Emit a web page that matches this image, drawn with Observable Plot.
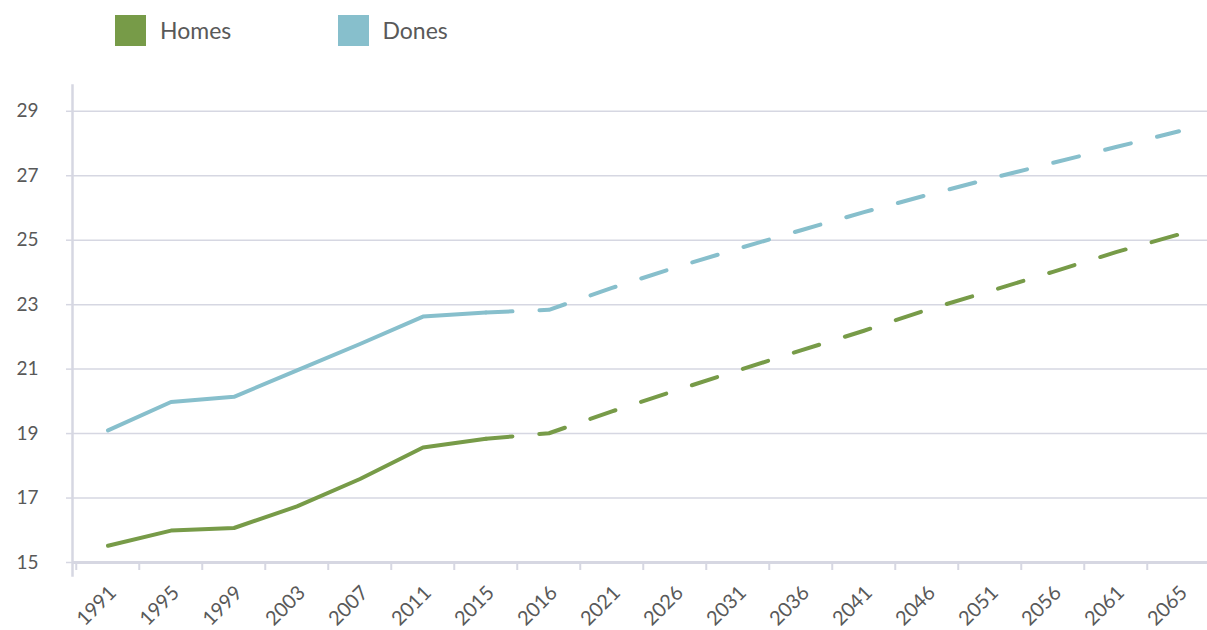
<!DOCTYPE html>
<html><head><meta charset="utf-8">
<script src="https://cdn.jsdelivr.net/npm/d3@7"></script>
<script src="https://cdn.jsdelivr.net/npm/@observablehq/plot@0.6"></script>
<style>
body{margin:0;background:#fff;font-family:Lato,sans-serif;}
#legend{position:relative;height:60px;}
.item{position:absolute;top:15px;display:flex;align-items:center;font-size:23px;color:#595959;line-height:31px;}
.sw{width:31px;height:31px;margin-right:14px;}
</style></head>
<body><div id="legend"></div><div id="chart"></div>
<script>
const years = ["1991","1995","1999","2003","2007","2011","2015","2016","2021","2026","2031","2036","2041","2046","2051","2056","2061","2065"];
const obsYears = ["1991","1995","1999","2003","2007","2011","2015"];
const projYears = ["2015","2016","2021","2026","2031","2036","2041","2046","2051","2056","2061","2065"];
const homesObs = [15.52, 15.99, 16.07, 16.74, 17.59, 18.57, 18.84];
const donesObs = [19.10, 19.98, 20.14, 20.96, 21.78, 22.63, 22.76];
const homesProj = [18.84, 19.01, 19.69, 20.33, 20.96, 21.58, 22.19, 22.84, 23.42, 24.02, 24.63, 25.18];
const donesProj = [22.76, 22.84, 23.52, 24.15, 24.74, 25.31, 25.87, 26.40, 26.91, 27.40, 27.89, 28.38];
const yTicks = [15, 17, 19, 21, 23, 25, 27, 29];
const seriesNames = ["Homes", "Dones"];
const colors = ["#779b48", "#87bfcc"];

const obs = [
  ...obsYears.map((y, i) => ({year: y, value: homesObs[i], series: "Homes"})),
  ...obsYears.map((y, i) => ({year: y, value: donesObs[i], series: "Dones"}))
];
const proj = [
  ...projYears.map((y, i) => ({year: y, value: homesProj[i], series: "Homes"})),
  ...projYears.map((y, i) => ({year: y, value: donesProj[i], series: "Dones"}))
];

// legend
const legend = document.getElementById("legend");
const legendLeft = [115, 337.5];
seriesNames.forEach((s, i) => {
  const d = document.createElement("div");
  d.className = "item";
  d.style.left = legendLeft[i] + "px";
  d.innerHTML = `<span class="sw" style="background:${colors[i]}"></span><span>${s}</span>`;
  legend.appendChild(d);
});

const xRange = [71.6, 1214.6];
const step = (xRange[1] - xRange[0]) / years.length;
const axisColor = "#d6d7e2";

const chart = Plot.plot({
  width: 1207, height: 570,
  marginLeft: 72, marginRight: 0, marginTop: 25, marginBottom: 68,
  style: {fontFamily: "Lato, sans-serif", color: "#595959", background: "white", overflow: "hidden"},
  x: {type: "band", domain: years, range: xRange, padding: 0, label: null},
  y: {domain: [15, 29.8], label: null},
  color: {domain: seriesNames, range: colors},
  marks: [
    Plot.gridY(yTicks, {stroke: axisColor, strokeOpacity: 1, strokeWidth: 1.5}),
    Plot.axisY({ticks: yTicks, tickSize: 6, tickPadding: 28, fontSize: 19, stroke: axisColor, strokeWidth: 1.5, label: null}),
    Plot.axisX({ticks: years, tickSize: 8, tickFormat: () => "", dx: -step / 2, stroke: axisColor, strokeWidth: 2, label: null}),
    Plot.text(years, {x: d => d, frameAnchor: "bottom", rotate: -45, textAnchor: "end", lineAnchor: "middle", fontSize: 20, fill: "#595959", dx: 5, dy: 27}),
    Plot.ruleY([15], {stroke: axisColor, strokeWidth: 3}),
    Plot.frame({anchor: "left", stroke: axisColor, strokeWidth: 2.5, insetBottom: -13}),
    Plot.line(obs, {x: "year", y: "value", z: "series", stroke: "series", strokeWidth: 4}),
    Plot.line(proj, {x: "year", y: "value", z: "series", stroke: "series", strokeWidth: 4, strokeDasharray: "26.5,27"})
  ]
});
document.getElementById("chart").appendChild(chart);
</script>
</body></html>
